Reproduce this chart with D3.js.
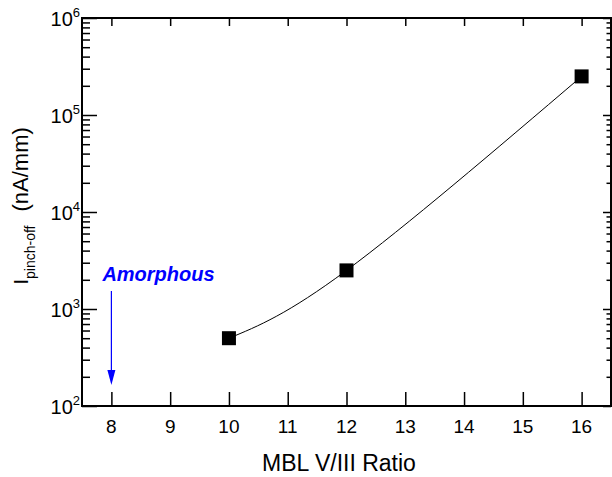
<!DOCTYPE html>
<html>
<head>
<meta charset="utf-8">
<script src="https://cdn.jsdelivr.net/npm/d3@7"></script>
<style>
  html, body { margin: 0; padding: 0; background: #fff; }
  svg { display: block; }
  text { font-family: "Liberation Sans", Arial, Helvetica, sans-serif; fill: #000; }
</style>
</head>
<body>
<svg id="chart" width="612" height="477"></svg>
<script>
// ---- data ----
const ratioValues = [10, 12, 16];                 // MBL V/III ratio
const pinchOffCurrent = [500, 2500, 250000];      // nA/mm
const xTickValues = [8, 9, 10, 11, 12, 13, 14, 15, 16];
const yTickExponents = [2, 3, 4, 5, 6];
const yMinorMultipliers = [2, 3, 4, 5, 6, 7, 8, 9];
const annotationLabel = "Amorphous";
const annotationRatio = 8;
const xAxisTitle = "MBL V/III Ratio";

// ---- layout ----
const W = 612, H = 477;
const L = 82, R = 611, T = 18, B = 406;
const svg = d3.select("#chart");

const x = d3.scaleLinear().domain([7.5, 16.5]).range([L, R]);
const y = d3.scaleLog().domain([1e2, 1e6]).range([B, T]);

const majorY = yTickExponents.map(e => Math.pow(10, e));
const minorY = [];
yTickExponents.slice(0, -1).forEach(e => yMinorMultipliers.forEach(m => minorY.push(m * Math.pow(10, e))));

function styleAxis(g) {
  g.select(".domain").remove();
  g.selectAll(".tick line").attr("stroke", "#000").attr("stroke-width", 1.5);
  g.selectAll(".tick text").remove();
}

// bottom axis (ticks inward)
svg.append("g").attr("transform", `translate(0,${B})`)
  .call(d3.axisBottom(x).tickValues(xTickValues).tickSize(-14).tickFormat(""))
  .call(styleAxis);
// top axis
svg.append("g").attr("transform", `translate(0,${T})`)
  .call(d3.axisTop(x).tickValues(xTickValues).tickSize(-8).tickFormat(""))
  .call(styleAxis);
// left axis major + minor
svg.append("g").attr("transform", `translate(${L},0)`)
  .call(d3.axisLeft(y).tickValues(majorY).tickSize(-15).tickFormat(""))
  .call(styleAxis);
svg.append("g").attr("transform", `translate(${L},0)`)
  .call(d3.axisLeft(y).tickValues(minorY).tickSize(-8).tickFormat(""))
  .call(styleAxis);
// right axis major + minor
svg.append("g").attr("transform", `translate(${R},0)`)
  .call(d3.axisRight(y).tickValues(majorY).tickSize(-8).tickFormat(""))
  .call(styleAxis);
svg.append("g").attr("transform", `translate(${R},0)`)
  .call(d3.axisRight(y).tickValues(minorY).tickSize(-4.5).tickFormat(""))
  .call(styleAxis);

// frame
svg.append("rect").attr("x", L).attr("y", T).attr("width", R - L).attr("height", B - T)
  .attr("fill", "none").attr("stroke", "#000").attr("stroke-width", 2);

// x tick labels
svg.append("g").selectAll("text").data(xTickValues).join("text")
  .attr("x", d => x(d)).attr("y", B + 27)
  .attr("text-anchor", "middle").attr("font-size", 19)
  .text(d => d);

// y tick labels 10^n
const yl = svg.append("g").selectAll("text").data(yTickExponents).join("text")
  .attr("x", L - 2).attr("y", d => y(Math.pow(10, d)) + 8)
  .attr("text-anchor", "end").attr("font-size", 20);
yl.append("tspan").text("10");
yl.append("tspan").attr("font-size", 13).attr("dy", -9).text(d => d);

// x axis title
svg.append("text").attr("x", (258 + 420) / 2).attr("y", 471)
  .attr("text-anchor", "middle").attr("font-size", 23).text(xAxisTitle);

// y axis title
const yt = svg.append("text")
  .attr("transform", `translate(28,${206}) rotate(-90)`)
  .attr("text-anchor", "middle").attr("font-size", 21);
yt.append("tspan").text("I");
yt.append("tspan").attr("font-size", 14).attr("dy", 7).text("pinch-off");
yt.append("tspan").attr("dy", -7).attr("dx", 14).attr("font-size", 22).text("(nA/mm)");

// fit curve
const pts = ratioValues.map((r, i) => [r, pinchOffCurrent[i]]);
svg.append("path").datum(pts)
  .attr("fill", "none").attr("stroke", "#000").attr("stroke-width", 1)
  .attr("d", d3.line().x(d => x(d[0])).y(d => y(d[1])).curve(d3.curveNatural));

// markers
const ms = 14;
svg.append("g").selectAll("rect").data(pts).join("rect")
  .attr("x", d => x(d[0]) - ms / 2).attr("y", d => y(d[1]) - ms / 2)
  .attr("width", ms).attr("height", ms).attr("fill", "#000");

// annotation
const blue = "#0000ff";
svg.append("text").attr("x", x(annotationRatio) - 9).attr("y", 281)
  .attr("font-size", 20).attr("font-weight", "bold").attr("font-style", "italic")
  .style("fill", blue).text(annotationLabel);
const ax = x(annotationRatio);
svg.append("line").attr("x1", ax).attr("x2", ax).attr("y1", 291).attr("y2", 372)
  .attr("stroke", blue).attr("stroke-width", 1.2);
svg.append("path")
  .attr("d", `M${ax - 4},${370} L${ax + 4},${370} L${ax},${385} Z`)
  .attr("fill", blue);
</script>
</body>
</html>
